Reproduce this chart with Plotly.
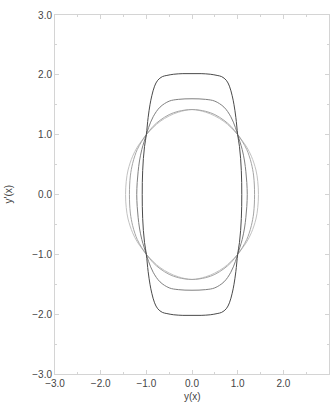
import plotly.graph_objects as go

# First-quadrant points (y, y') for each closed curve
a_y  = [0.0, 0.2, 0.4, 0.55, 0.65, 0.75, 0.82, 0.88, 0.92, 0.96, 1.0, 1.04, 1.065, 1.08, 1.088, 1.09]
a_yp = [2.02, 2.02, 2.01, 1.99, 1.97, 1.91, 1.81, 1.65, 1.50, 1.29, 1.0, 0.80, 0.60, 0.40, 0.20, 0.0]

b_y  = [0.0, 0.3, 0.5, 0.7, 0.85, 0.95, 1.0, 1.05, 1.1, 1.15, 1.18, 1.2, 1.21]
b_yp = [1.60, 1.59, 1.56, 1.46, 1.30, 1.12, 1.0, 0.88, 0.75, 0.56, 0.38, 0.20, 0.0]

c_y  = [0.0, 0.3, 0.5, 0.7, 0.85, 1.0, 1.1, 1.2, 1.25, 1.3, 1.35, 1.37]
c_yp = [1.42, 1.39, 1.335, 1.24, 1.14, 1.0, 0.89, 0.75, 0.65, 0.52, 0.31, 0.0]

d_y  = [0.0, 0.3, 0.5, 0.7, 0.85, 1.0, 1.1, 1.2, 1.3, 1.4, 1.44, 1.455]
d_yp = [1.42, 1.375, 1.313, 1.22, 1.12, 1.0, 0.90, 0.79, 0.64, 0.41, 0.22, 0.0]

x_ticks = [-3.0, -2.0, -1.0, 0.0, 1.0, 2.0, 3.0]
y_ticks = [-3.0, -2.0, -1.0, 0.0, 1.0, 2.0, 3.0]


def closed(qy, qyp):
    # mirror the quadrant points into one closed curve (no duplicated junction points)
    xs = list(qy) + list(qy[::-1][1:]) + [-v for v in qy[1:]] + [-v for v in qy[::-1][1:]]
    ys = list(qyp) + [-v for v in qyp[::-1][1:]] + [-v for v in qyp[1:]] + list(qyp[::-1][1:])
    return xs, ys


curves = [
    (d_y, d_yp, "#c2c2c2"),
    (c_y, c_yp, "#a4a4a4"),
    (b_y, b_yp, "#808080"),
    (a_y, a_yp, "#4a4a4a"),
]

fig = go.Figure()
for qy, qyp, col in curves:
    xs, ys = closed(qy, qyp)
    fig.add_trace(go.Scatter(x=xs, y=ys, mode="lines",
                             line=dict(color=col, width=1, shape="spline", smoothing=1.0),
                             showlegend=False, hoverinfo="skip"))

font = dict(family="Liberation Sans, Arial", size=10, color="#444")
axis_common = dict(
    range=[-3, 3], showgrid=False, zeroline=False, automargin=False,
    showline=True, linecolor="#d4d4d4", linewidth=1, mirror="allticks",
    ticks="inside", ticklen=4, tickcolor="#d4d4d4", tickwidth=1,
    tickformat=".1f", tickfont=font,
    minor=dict(ticks="inside", ticklen=2, tickcolor="#d4d4d4", dtick=0.5, showgrid=False),
)

fig.update_xaxes(**axis_common, tickvals=x_ticks)
fig.update_yaxes(**axis_common, tickvals=y_ticks)

fig.add_annotation(text="y(x)", xref="paper", yref="paper", x=0.5, y=0, yshift=-22,
                   showarrow=False, font=font, xanchor="center", yanchor="middle")
fig.add_annotation(text="y'(x)", xref="paper", yref="paper", x=0, y=0.5, xshift=-47,
                   showarrow=False, font=font, textangle=-90, xanchor="center", yanchor="middle")

fig.update_layout(
    width=335, height=403,
    margin=dict(l=55, r=6, t=15, b=29),
    paper_bgcolor="white", plot_bgcolor="white",
)

fig.write_html("out.html", config={"displayModeBar": False},
               post_script="document.body.style.margin='0';document.body.style.overflow='hidden';")
